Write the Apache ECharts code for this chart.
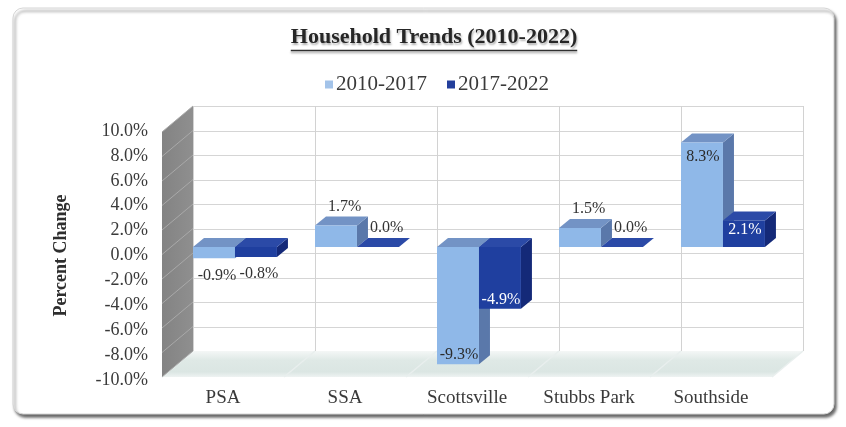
<!DOCTYPE html>
<html>
<head>
<meta charset="utf-8">
<script src="https://cdn.jsdelivr.net/npm/echarts@6/dist/echarts.min.js"></script>
<style>
  html, body { margin: 0; padding: 0; background: #ffffff; }
  #chart { width: 846px; height: 427px; }
</style>
</head>
<body>
<div id="chart"></div>
<script>
// Household change by area, two periods
const categories = ['PSA', 'SSA', 'Scottsville', 'Stubbs Park', 'Southside'];
const periods = ['2010-2017', '2017-2022'];
const change2010to2017 = [-0.9, 1.7, -9.3, 1.5, 8.3];
const change2017to2022 = [-0.8, 0.0, -4.9, 0.0, 2.1];
const yMin = -10, yMax = 10, yStep = 2;

const SERIF = '"Liberation Serif", "Times New Roman", serif';
const TEXT = '#3a3a3a';

// pseudo-3D geometry
const WALL_DX = -31, WALL_DY = 26;   // back wall -> front edge
const BAR_DX = 11, BAR_DY = -9;      // bar depth
const BAR_FRAC = 0.344;              // bar width as share of a category band

const palette = [
  { front: '#8fb8e8', top: '#7393c5', side: '#5a78aa', inside: '#2b2b2b', legend: '#a3c3e9' },
  { front: '#1f3f9f', top: '#2b4aa7', side: '#142978', inside: '#ffffff', legend: '#233f9c' }
];

const pct = v => v.toFixed(1) + '%';

function yTicks() {
  const t = [];
  for (let v = yMin; v <= yMax + 1e-9; v += yStep) t.push(v);
  return t;
}

// Back wall, side wall and floor, all placed through the wall grid's axes
function renderWalls(params, api) {
  const band = api.size([1, 0])[0];
  const xl = api.coord([0, 0])[0] - band / 2;
  const xr = api.coord([categories.length - 1, 0])[0] + band / 2;
  const yTop = api.coord([0, yMax])[1];
  const yBot = api.coord([0, yMin])[1];
  const children = [];

  // back wall
  children.push({ type: 'rect', shape: { x: xl, y: yTop, width: xr - xl, height: yBot - yTop },
    style: { fill: '#ffffff' } });
  yTicks().forEach(v => {
    const y = Math.round(api.coord([0, v])[1]) + 0.5;
    children.push({ type: 'line', shape: { x1: xl, y1: y, x2: xr, y2: y },
      style: { stroke: '#d5d5d5', lineWidth: 1 } });
  });
  for (let k = 0; k <= categories.length; k++) {
    const x = Math.round(xl + k * band) + 0.5;
    children.push({ type: 'line', shape: { x1: x, y1: yTop, x2: x, y2: yBot },
      style: { stroke: '#d2d2d2', lineWidth: 1 } });
  }

  // floor
  children.push({ type: 'polygon',
    shape: { points: [[xl, yBot], [xr, yBot], [xr + WALL_DX, yBot + WALL_DY], [xl + WALL_DX, yBot + WALL_DY]] },
    style: { fill: new echarts.graphic.LinearGradient(0, 0, 0, 1, [
      { offset: 0, color: '#f4f7f6' }, { offset: 0.35, color: '#dfe9e6' },
      { offset: 0.8, color: '#dbe6e3' }, { offset: 1, color: '#eef3f2' }]) } });
  for (let k = 0; k <= categories.length; k++) {
    const x = xl + k * band;
    children.push({ type: 'line', shape: { x1: x, y1: yBot, x2: x + WALL_DX, y2: yBot + WALL_DY },
      style: { stroke: '#e9efee', lineWidth: 1.5 } });
  }

  // side wall
  children.push({ type: 'polygon',
    shape: { points: [[xl, yTop], [xl, yBot], [xl + WALL_DX, yBot + WALL_DY], [xl + WALL_DX, yTop + WALL_DY]] },
    style: { fill: new echarts.graphic.LinearGradient(1, 0, 0, 0, [
      { offset: 0, color: '#8f8f8f' }, { offset: 1, color: '#838383' }]) } });
  yTicks().forEach(v => {
    const y = api.coord([0, v])[1];
    children.push({ type: 'line', shape: { x1: xl, y1: y, x2: xl + WALL_DX, y2: y + WALL_DY },
      style: { stroke: '#a9a9a9', lineWidth: 1 } });
  });

  return { type: 'group', children };
}

// One 3D box per value, with its data label
function makeBarRenderer(slot) {
  const col = palette[slot];
  return function (params, api) {
    const ci = api.value(0);
    const v = api.value(1);
    const band = api.size([1, 0])[0];
    const base = api.coord([ci, 0]);
    const end = api.coord([ci, v]);
    const w = band * BAR_FRAC;
    const x0 = base[0] - band / 2 + slot * w;
    const x1 = x0 + w;
    const yt = Math.min(base[1], end[1]);
    const yb = Math.max(base[1], end[1]);
    const h = yb - yt;

    const children = [
      { type: 'polygon', shape: { points: [[x1, yt], [x1, yb], [x1 + BAR_DX, yb + BAR_DY], [x1 + BAR_DX, yt + BAR_DY]] },
        style: { fill: col.side } },
      { type: 'polygon', shape: { points: [[x0, yt], [x1, yt], [x1 + BAR_DX, yt + BAR_DY], [x0 + BAR_DX, yt + BAR_DY]] },
        style: { fill: col.top } },
      { type: 'rect', shape: { x: x0, y: yt, width: w, height: h }, style: { fill: col.front } }
    ];

    const cx = (x0 + x1) / 2;
    let tx, ty, fill;
    if (h >= 24) {
      tx = cx + 1;
      fill = col.inside;
      ty = v > 0 ? Math.min(yt + 14, yt + h / 2 - 4) : yb - 9;
    } else if (v >= 0) {
      tx = cx + BAR_DX * 0.8;
      ty = yt + BAR_DY - 10;
      fill = '#333333';
    } else {
      tx = cx + 3;
      ty = yb + 17;
      fill = '#333333';
    }
    children.push({ type: 'text', z2: 10, style: {
      text: pct(v), x: tx, y: ty, align: 'center', verticalAlign: 'middle',
      font: '16px ' + SERIF, fill } });
    return { type: 'group', children };
  };
}

const chart = echarts.init(document.getElementById('chart'), null, { renderer: 'canvas' });

const titleText = 'Household Trends (2010-2022)';
const titleFont = 'bold 22px ' + SERIF;
const measureCtx = document.createElement('canvas').getContext('2d');
measureCtx.font = titleFont;
const titleWidth = measureCtx.measureText(titleText).width;
const titleCx = 434;

const valueAxisBase = { type: 'value', min: yMin, max: yMax, interval: yStep };

chart.setOption({
  animation: false,
  backgroundColor: '#ffffff',
  graphic: [
    { type: 'rect', z: -10, shape: { x: 13, y: 8, width: 821, height: 406, r: 10 },
      style: { fill: '#ffffff', stroke: '#d6d6d6', lineWidth: 1,
        shadowBlur: 3, shadowOffsetX: 2, shadowOffsetY: 3, shadowColor: 'rgba(0,0,0,0.6)' } },
    { type: 'text', z: 5, x: titleCx, y: 37,
      style: { text: titleText, font: titleFont, fill: '#262626', align: 'center', verticalAlign: 'middle',
        textShadowColor: 'rgba(0,0,0,0.3)', textShadowOffsetX: 1, textShadowOffsetY: 2, textShadowBlur: 2 } },
    { type: 'line', z: 5, shape: { x1: titleCx - titleWidth / 2, y1: 50.5, x2: titleCx + titleWidth / 2, y2: 50.5 },
      style: { stroke: '#303030', lineWidth: 1.5, shadowColor: 'rgba(0,0,0,0.35)', shadowOffsetY: 2, shadowBlur: 2 } }
  ],
  legend: {
    data: periods,
    top: 69,
    left: 320,
    icon: 'rect',
    itemWidth: 8,
    itemHeight: 8,
    itemGap: 20,
    textStyle: { fontFamily: SERIF, fontSize: 21, color: TEXT, padding: [0, 0, 0, -2] }
  },
  grid: [
    { left: 162, right: 74, top: 131, bottom: 47 },  // front edge: axis labels
    { left: 193, right: 43, top: 106, bottom: 76 },  // back wall
    { left: 193, right: 43, top: 121, bottom: 54 }   // bars
  ],
  xAxis: [
    { type: 'category', gridIndex: 0, data: categories,
      axisLine: { show: false }, axisTick: { show: false }, splitLine: { show: false },
      axisLabel: { margin: 9, fontFamily: SERIF, fontSize: 19, color: TEXT } },
    { type: 'category', gridIndex: 1, data: categories, show: false },
    { type: 'category', gridIndex: 2, data: categories, show: false }
  ],
  yAxis: [
    Object.assign({}, valueAxisBase, { gridIndex: 0,
      name: 'Percent Change', nameLocation: 'middle', nameRotate: 90, nameGap: 92,
      nameTextStyle: { fontFamily: SERIF, fontSize: 18, fontWeight: 'bold', color: '#2e2e2e' },
      axisLine: { show: false }, axisTick: { show: false }, splitLine: { show: false },
      axisLabel: { margin: 14, fontFamily: SERIF, fontSize: 18, color: TEXT, formatter: v => pct(v) } }),
    Object.assign({}, valueAxisBase, { gridIndex: 1, show: false }),
    Object.assign({}, valueAxisBase, { gridIndex: 2, show: false })
  ],
  series: [
    { type: 'custom', name: 'walls', xAxisIndex: 1, yAxisIndex: 1, z: 1, silent: true,
      renderItem: renderWalls, data: [[0, 0]] },
    { type: 'custom', name: periods[0], xAxisIndex: 2, yAxisIndex: 2, z: 3,
      itemStyle: { color: palette[0].legend },
      encode: { x: 0, y: 1 },
      renderItem: makeBarRenderer(0),
      data: change2010to2017.map((v, i) => [i, v]) },
    { type: 'custom', name: periods[1], xAxisIndex: 2, yAxisIndex: 2, z: 4,
      itemStyle: { color: palette[1].legend },
      encode: { x: 0, y: 1 },
      renderItem: makeBarRenderer(1),
      data: change2017to2022.map((v, i) => [i, v]) }
  ]
});
</script>
</body>
</html>
